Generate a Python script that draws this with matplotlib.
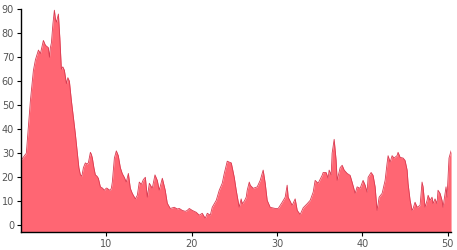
import matplotlib
matplotlib.use("Agg")
import matplotlib.pyplot as plt

# values
x = [0.0, 0.4, 0.62, 0.75, 0.87, 1.1, 1.45, 1.69, 2.04, 2.27, 2.62, 2.86, 3.2, 3.33,
     3.44, 3.56, 3.74, 3.91, 4.03, 4.15, 4.38, 4.55, 4.73, 4.9, 5.08, 5.32, 5.49,
     5.67, 5.9, 6.14, 6.37, 6.6, 6.78, 6.96, 7.13, 7.31, 7.54, 7.72, 7.89, 8.13,
     8.25, 8.36, 8.54, 8.71, 8.89, 9.06, 9.3, 9.54, 9.77, 10.0, 10.1, 10.3, 10.47,
     10.59, 10.7, 10.94, 11.17, 11.4, 11.64, 11.87, 12.1, 12.34, 12.58, 12.81,
     13.04, 13.4, 13.63, 13.86, 14.1, 14.33, 14.57, 14.8, 15.04, 15.38, 15.7,
     15.97, 16.2, 16.56, 16.9, 17.14, 17.49, 17.96, 18.31, 18.55, 18.9, 19.25,
     19.48, 19.72, 20.07, 20.54, 20.89, 21.24, 21.59, 21.83, 22.18, 22.41, 22.88,
     23.23, 23.58, 23.82, 24.05, 24.17, 24.41, 24.64, 24.76, 24.99, 25.22, 25.57,
     25.8, 25.92, 26.16, 26.39, 26.51, 26.75, 26.86, 27.21, 27.68, 28.03, 28.38,
     28.62, 28.85, 29.2, 29.79, 30.14, 30.61, 30.96, 31.19, 31.31, 31.78, 32.13,
     32.37, 32.72, 33.07, 33.54, 33.89, 34.24, 34.47, 34.82, 35.29, 35.41, 35.76,
     35.99, 36.11, 36.35, 36.46, 36.7, 36.93, 37.05, 37.4, 37.64, 37.87, 38.22,
     38.57, 38.8, 39.16, 39.39, 39.74, 40.09, 40.33, 40.56, 40.68, 41.03, 41.26,
     41.5, 41.73, 41.97, 42.32, 42.67, 42.9, 43.02, 43.26, 43.49, 43.72, 44.07,
     44.19, 44.43, 44.78, 45.01, 45.25, 45.36, 45.6, 45.83, 45.95, 46.18, 46.42,
     46.77, 47.0, 47.12, 47.35, 47.59, 47.71, 47.94, 48.17, 48.29, 48.52, 48.76,
     48.87, 49.11, 49.34, 49.46, 49.81, 49.93, 50.16, 50.4]
y = [27, 29, 30, 36, 41, 52, 64.5, 69, 73, 71.5, 77, 75, 74, 70,
     74, 76, 84, 89.6, 86, 84.6, 88, 78, 65, 66, 64.6, 59, 61.5,
     60, 52, 45, 38, 30, 24, 21, 20.5, 24, 26, 25.5, 26, 30.4,
     29.5, 28, 24, 21, 20.5, 19.6, 16, 15.5, 14.6, 15.5, 15.4, 14.8, 14.6,
     15.5, 18, 28, 31, 29, 24, 21.5, 20, 18, 21.6, 15.4,
     13.3, 11, 12.5, 18, 17, 19, 20, 11.7, 17.5, 15.4, 21,
     18.7, 14.6, 19.6, 14.6, 9.2, 7, 7.5, 6.8, 7, 6.2, 5.8,
     6.2, 7, 6.2, 5.4, 4.2, 5, 2.9, 5, 4.2, 7.5, 10.4,
     14.6, 17.5, 21.6, 25, 26.7, 26.3, 26, 24, 20, 14.6, 7.5,
     11, 9, 10, 11.7, 14.6, 18, 16.7, 15.4, 16, 18.7, 23,
     17.5, 10.4, 7.5, 7, 7, 9.6, 11.7, 16.7, 11.7, 8.3, 11,
     6.2, 4.5, 7.3, 9, 10.4, 13.8, 18.7, 17.5, 20.8, 22, 22,
     19.6, 23, 21, 30, 35.8, 27, 18.7, 24, 25, 23, 21.6,
     20.8, 18, 13.3, 16, 15.4, 18.7, 16.7, 13.8, 20, 22, 20.8,
     16, 6.2, 11.7, 13.3, 18.7, 25.8, 29, 26.3, 29, 28, 29,
     30.4, 28.3, 28, 27, 23, 17.5, 10.4, 6.2, 7, 9.6, 7.5,
     8.3, 18, 16, 7.5, 10.4, 12.5, 10.4, 11.7, 9, 11, 9,
     14.6, 13.3, 10.4, 7.5, 16, 11.7, 28, 31]
y_ticks = [0, 10, 20, 30, 40, 50, 60, 70, 80, 90]
x_ticks = [10, 20, 30, 40, 50]

fig = plt.figure(figsize=(4.57, 2.5), dpi=100)
ax = fig.add_axes([0.046, 0.073, 0.941, 0.89])

ax.fill_between(x, y, -2.7, color='#ff6673', linewidth=0)
ax.plot(x, y, color='#d93a50', linewidth=0.6)

ax.set_xlim(0, 50.4)
ax.set_ylim(-2.7, 90)
ax.set_xticks(x_ticks)
ax.set_yticks(y_ticks)

for s in ['top', 'right']:
    ax.spines[s].set_visible(False)
for s in ['left', 'bottom']:
    ax.spines[s].set_linewidth(1)
    ax.spines[s].set_color('black')

ax.tick_params(axis='both', labelsize=7, labelcolor='#555555', length=3, width=0.8, pad=2)

plt.savefig('out.png', dpi=100)
plt.close()
